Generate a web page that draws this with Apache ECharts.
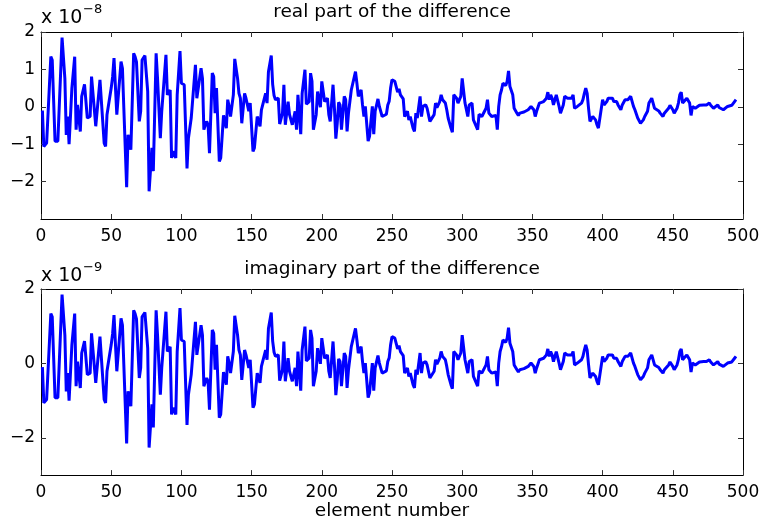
<!DOCTYPE html>
<html>
<head>
<meta charset="utf-8">
<script src="https://cdn.jsdelivr.net/npm/echarts@6/dist/echarts.min.js"></script>
<style>html,body{margin:0;padding:0;background:#fff}#c{width:766px;height:522px}</style>
</head>
<body>
<div id="c"></div>
<script>
const elementIdx = [1,2,4,7,8,10,12,13,15,17,18,19,20,22,24,25,26,28,29,30,31,33,35,36,37,39,42,43,45,46,47,48,50,51,52,53,54,55,57,58,59,61,62,63,64,66,67,68,70,71,72,74,76,77,79,80,82,83,85,86,89,90,92,93,94,96,97,99,100,102,104,105,107,108,110,111,112,114,115,116,118,119,120,122,123,124,125,127,128,130,131,132,133,134,135,137,138,140,141,142,143,145,146,148,149,150,151,152,154,155,156,157,158,160,161,162,164,165,166,167,169,170,172,173,174,176,177,179,181,182,183,185,186,188,189,191,192,193,194,196,197,199,200,201,202,204,205,206,208,209,210,211,212,213,214,216,217,218,219,221,222,224,225,226,228,229,230,231,233,234,235,236,237,238,240,241,243,244,246,247,248,249,250,251,252,254,255,256,258,259,261,262,263,265,266,267,268,270,271,272,274,275,277,278,280,281,282,284,285,286,288,289,290,292,293,294,296,297,299,300,301,302,304,305,307,308,309,311,312,314,315,317,318,319,321,322,324,325,326,327,328,329,331,332,333,334,336,337,339,340,341,342,344,345,347,348,349,351,352,353,355,356,358,359,360,361,362,363,364,365,367,368,369,370,372,373,375,376,378,379,380,382,383,385,386,387,388,389,390,391,392,393,395,396,397,398,400,401,403,404,405,407,408,410,411,413,414,416,417,418,420,422,423,425,426,427,429,430,432,433,435,436,437,438,440,441,443,444,445,447,448,450,451,453,454,455,456,457,458,460,461,462,463,464,466,467,469,470,472,473,474,476,477,479,480,482,483,484,486,487,489,490,492,493,494,495];
const realPart = [-0.1,-1.06,-0.97,1.34,1.25,-0.92,-0.92,-0.88,1.85,0.76,-0.75,-0.26,-1.0,0.5,1.34,-0.61,0.05,-0.66,0.28,0.32,0.6,-0.3,-0.26,0.81,0.81,-0.52,0.72,0.68,-0.97,-1.06,-0.21,-0.2,0.5,0.8,1.3,1.3,-0.21,-0.26,1.21,1.03,-0.04,-2.15,-0.75,-0.73,-1.15,1.43,1.34,1.2,-0.39,-0.12,1.25,1.37,0.41,-2.26,-1.1,-1.72,1.43,0.76,-0.84,-0.12,1.39,0.32,0.45,-1.37,-1.19,-1.37,0.32,1.49,0.63,0.59,-1.65,-0.84,-0.3,-0.28,1.12,0.23,0.23,1.03,0.76,-0.61,-0.39,-0.48,-1.24,0.9,0.81,-0.17,0.5,-1.46,-1.37,-0.23,-0.21,-0.57,0.19,0.01,-0.26,0.32,1.28,0.76,0.36,0.23,-0.44,0.36,0.23,-0.12,0.1,0.05,-1.19,-1.1,-0.26,-0.23,-0.52,-0.08,-0.04,0.36,0.1,0.94,1.37,0.6,0.3,0.19,0.23,-0.46,-0.17,0.59,-0.48,0.14,-0.21,-0.48,-0.12,-0.61,0.32,-0.73,0.36,0.99,0.07,0.14,0.9,0.68,-0.61,-0.21,0.41,-0.01,0.68,0.72,0.14,0.23,-0.21,-0.39,0.59,-0.04,-0.85,-0.44,0.12,0.05,-0.61,0.28,0.19,-0.66,-0.17,0.45,0.45,0.94,0.63,0.28,0.45,0.05,-0.26,0.01,-0.92,-0.79,-0.75,0.01,-0.73,-0.12,0.21,0.01,-0.26,-0.21,-0.2,0.05,0.15,0.5,0.72,0.69,0.68,0.39,0.48,0.32,0.21,-0.26,-0.12,-0.35,-0.26,-0.57,-0.66,-0.17,-0.3,0.28,-0.26,0.01,0.05,-0.04,-0.39,-0.44,-0.21,0.1,-0.02,0.14,0.32,0.19,0.1,-0.08,-0.3,-0.57,-0.68,0.32,0.23,0.1,0.28,0.76,0.78,0.1,-0.26,0.05,0.1,-0.35,-0.39,-0.61,-0.2,-0.26,-0.3,-0.04,0.19,-0.17,-0.26,-0.23,-0.23,-0.61,0.01,0.32,0.45,0.63,0.57,0.68,0.96,0.54,0.32,-0.04,-0.17,-0.23,-0.17,-0.2,-0.14,-0.17,-0.08,-0.12,0.01,-0.08,-0.26,-0.12,0.1,0.07,0.14,0.1,0.23,0.39,0.19,0.32,0.23,0.05,0.32,0.28,0.01,-0.17,0.05,0.28,0.23,0.19,0.23,0.32,-0.04,0.01,0.05,0.1,0.19,0.36,0.5,0.36,-0.04,-0.39,-0.35,-0.26,-0.35,-0.48,-0.57,-0.57,0.19,0.05,0.14,0.23,0.28,0.23,0.14,0.14,0.05,-0.08,0.05,0.19,0.23,0.19,0.28,0.01,-0.08,-0.3,-0.32,-0.44,-0.35,-0.26,-0.12,0.1,0.23,0.23,-0.04,-0.08,-0.11,-0.17,-0.26,-0.17,-0.12,-0.04,0.04,-0.08,-0.17,-0.04,0.1,0.32,0.39,0.1,0.14,0.23,0.28,0.1,-0.23,0.01,-0.04,-0.02,0.04,0.01,0.05,0.07,0.05,0.1,0.04,-0.04,-0.02,0.05,-0.02,-0.05,-0.08,-0.11,0.01,0.05,0.04,0.05,0.14,0.19];
const imagPart = realPart.slice();
const xTicks = [0,50,100,150,200,250,300,350,400,450,500];
const yTicksTop = [-2,-1,0,1,2];
const yTicksBottom = [-2,0,2];

const FONT = '"DejaVu Sans", Verdana, sans-serif';
const chart = echarts.init(document.getElementById('c'), null, {renderer:'canvas'});
const realData = elementIdx.map((x,i)=>[x, realPart[i]]);
const imagData = elementIdx.map((x,i)=>[x, imagPart[i]]);

const lineStyle = {color:'#000', width:1};
const tickStyle = {color:'#333', width:1};
function xAx(grid, pos, labels, name){
  return {type:'value', gridIndex:grid, position:pos, min:0, max:500, interval:50,
    axisLine:{show:true, onZero:false, lineStyle}, axisTick:{show:true, inside:true, length:5, lineStyle:tickStyle},
    axisLabel:{show:labels, color:'#000', fontSize:17, fontFamily:FONT, margin:9},
    splitLine:{show:false}, name: name||'', nameLocation:'middle', nameGap:26,
    nameTextStyle:{color:'#000', fontSize:18.5, fontFamily:FONT}};
}
function yAx(grid, pos, labels, ticks){
  return {type:'value', gridIndex:grid, position:pos, min:-3, max:2,
    axisLine:{show:true, onZero:false, lineStyle},
    axisTick:{show:true, inside:true, length:5, lineStyle:tickStyle, customValues:ticks},
    axisLabel:{show:labels, color:'#000', fontSize:17, fontFamily:FONT, margin:6, customValues:ticks,
      formatter:v=> v<0 ? '\u2212'+Math.abs(v) : String(v)},
    splitLine:{show:false}};
}
const option = {
  animation:false,
  backgroundColor:'#fff',
  grid:[
    {left:41, right:23, top:32, height:187},
    {left:41, right:23, top:289, height:188}
  ],
  xAxis:[xAx(0,'bottom',true), xAx(1,'bottom',true,'element number'), xAx(0,'top',false), xAx(1,'top',false)],
  yAxis:[yAx(0,'left',true,yTicksTop), yAx(1,'left',true,yTicksBottom), yAx(0,'right',false,yTicksTop), yAx(1,'right',false,yTicksBottom)],
  series:[
    {type:'line', xAxisIndex:0, yAxisIndex:0, data:realData, showSymbol:false, lineStyle:{color:'#0000ff', width:3}},
    {type:'line', xAxisIndex:1, yAxisIndex:1, data:imagData, showSymbol:false, lineStyle:{color:'#0000ff', width:3}}
  ],
  graphic:[
    {type:'text', x:392, y:3, style:{text:'real part of the difference', font:'18.5px '+FONT, fill:'#000', textAlign:'center'}},
    {type:'text', x:392, y:260, style:{text:'imaginary part of the difference', font:'18.5px '+FONT, fill:'#000', textAlign:'center'}},
    {type:'text', x:41, y:9, style:{text:'x 10', font:'19px '+FONT, fill:'#000'}},
    {type:'text', x:83, y:3, style:{text:'\u22128', font:'13px '+FONT, fill:'#000'}},
    {type:'text', x:41, y:267, style:{text:'x 10', font:'19px '+FONT, fill:'#000'}},
    {type:'text', x:83, y:261, style:{text:'\u22129', font:'13px '+FONT, fill:'#000'}}
  ]
};
chart.setOption(option);
</script>
</body>
</html>
